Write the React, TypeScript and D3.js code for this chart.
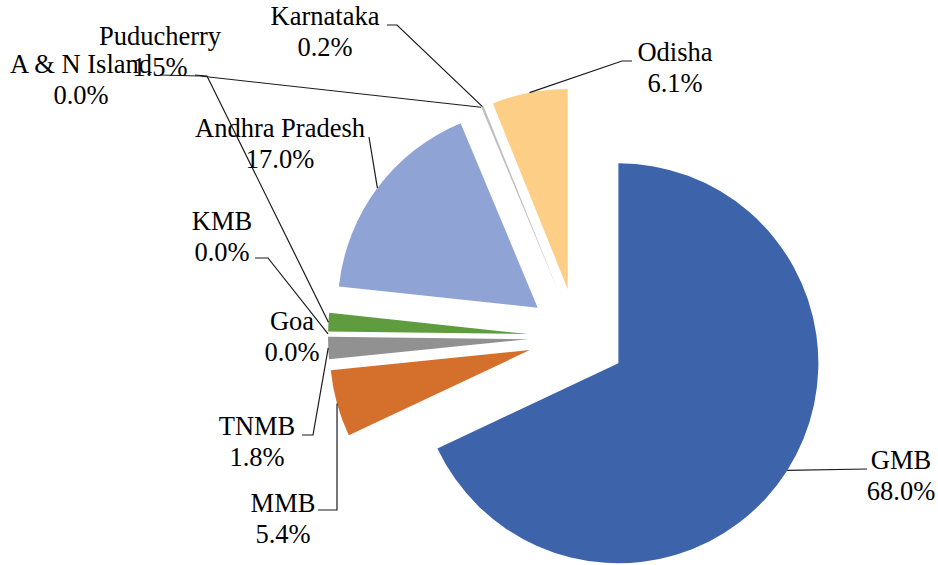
import * as d3 from "d3";

// share of cargo handled, clockwise from 12 o'clock
const categories = ["GMB", "MMB", "TNMB", "Goa", "KMB", "Puducherry", "Andhra Pradesh", "A & N Island", "Karnataka", "Odisha"];
const shares = [68.0, 5.4, 1.8, 0.0, 0.0, 1.5, 17.0, 0.0, 0.2, 6.1];
const percentLabels = ["68.0%", "5.4%", "1.8%", "0.0%", "0.0%", "1.5%", "17.0%", "0.0%", "0.2%", "6.1%"];
const sliceColors = ["#3D64AB", "#D46F2C", "#919191", "#E0A800", "#5B9BD5", "#5F9B3F", "#8FA3D4", "#6F8FCF", "#BFBFBF", "#FDCE86"];

// label layout: [centre x, first baseline y], and leader elbow points (label side)
const labelPos: Record<string, [number, number]> = {
    "GMB": [901, 469],
    "MMB": [283, 512],
    "TNMB": [257, 435],
    "Goa": [292, 330],
    "KMB": [222, 230],
    "Puducherry": [160, 45],
    "Andhra Pradesh": [280, 137],
    "A & N Island": [81, 73],
    "Karnataka": [325, 25],
    "Odisha": [675, 61],
};
const leaderElbows: Record<string, [number, number][]> = {
    "GMB": [[867, 469]],
    "MMB": [[318, 510], [337, 510]],
    "TNMB": [[302, 435], [313, 435]],
    "KMB": [[255, 258], [268, 258]],
    "Puducherry": [[195, 75], [207, 76]],
    "Andhra Pradesh": [[369, 137]],
    "A & N Island": [[160, 75], [200, 76]],
    "Karnataka": [[387, 25], [397, 25]],
    "Odisha": [[632, 61], [622, 61]],
};

export default function App() {
    const width = 938;
    const height = 565;
    const cx = 577;
    const cy = 337;
    const radius = 200;
    const explode = 49;

    const data = categories.map((name, i) => ({ name, value: shares[i], label: percentLabels[i], color: sliceColors[i] }));

    const pie = d3.pie<typeof data[number]>()
        .sort(null)
        .value(d => d.value)
        .startAngle(0)
        .endAngle(2 * Math.PI);
    const arcs = pie(data);
    const arc = d3.arc<d3.PieArcDatum<typeof data[number]>>()
        .innerRadius(0)
        .outerRadius(radius);

    const dir = (a: number): [number, number] => [Math.sin(a), -Math.cos(a)];
    const font = "Liberation Serif, Tinos, Times New Roman, DejaVu Serif, serif";

    return (
        <svg width={width} height={height} style={{ position: "absolute", left: 0, top: 0, background: "#fff" }}>
            <g transform={`translate(${cx}, ${cy})`}>
                {arcs.map((a, i) => {
                    const mid = (a.startAngle + a.endAngle) / 2;
                    const [dx, dy] = dir(mid);
                    if (a.endAngle - a.startAngle <= 0) return null;
                    return (
                        <path
                            key={i}
                            d={arc(a) ?? ""}
                            fill={a.data.color}
                            transform={`translate(${dx * explode}, ${dy * explode})`}
                        />
                    );
                })}
            </g>
            <g id="leaders" fill="none" stroke="#1a1a1a" strokeWidth={1.2}>
                {arcs.map((a, i) => {
                    const elbows = leaderElbows[a.data.name];
                    if (!elbows) return null;
                    const mid = (a.startAngle + a.endAngle) / 2;
                    const [dx, dy] = dir(mid);
                    const end: [number, number] = [cx + dx * (radius + explode), cy + dy * (radius + explode)];
                    return <path key={i} d={d3.line()([...elbows, end]) ?? ""} />;
                })}
            </g>
            <g id="labels" fill="#000" textAnchor="middle" style={{ fontFamily: font, fontSize: "26.5px" }}>
                {data.map((d, i) => {
                    const [x, y] = labelPos[d.name];
                    return (
                        <text key={i} x={x} y={y} style={{ fontFamily: font }}>
                            <tspan x={x} y={y}>{d.name}</tspan>
                            <tspan x={x} y={y + 31}>{d.label}</tspan>
                        </text>
                    );
                })}
            </g>
        </svg>
    );
}
